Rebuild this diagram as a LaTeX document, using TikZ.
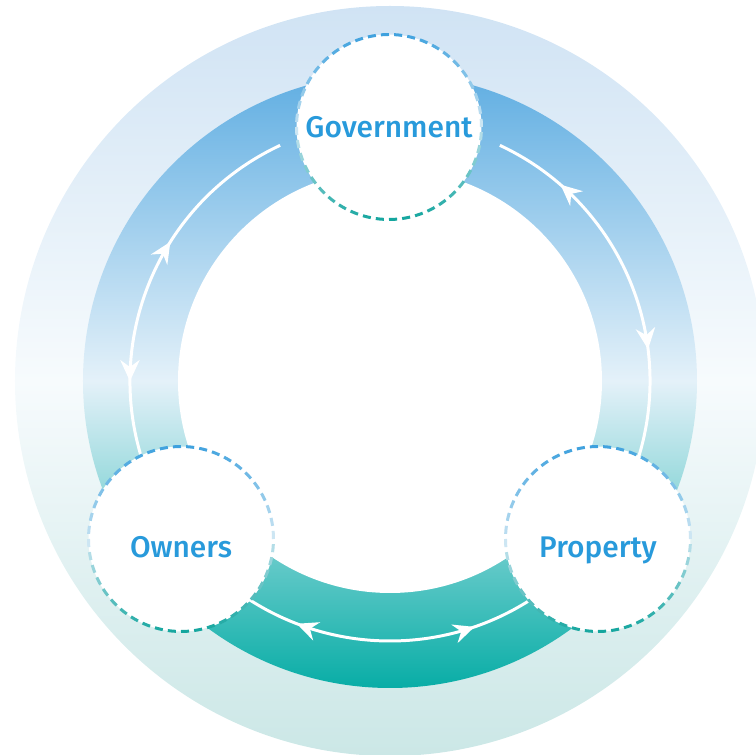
\documentclass[tikz,border=0pt]{standalone}
\usepackage{fontspec}
\newfontfamily\hubfont{Fira Sans Medium}
\usetikzlibrary{arrows.meta,decorations.markings}

\definecolor{halotop}{RGB}{208,227,244}
\definecolor{halomid}{RGB}{247,251,253}
\definecolor{halobot}{RGB}{203,231,230}
\definecolor{ringtop}{RGB}{96,174,226}
\definecolor{ringmid}{RGB}{228,241,249}
\definecolor{ringbot}{RGB}{8,173,166}
\definecolor{dashblue}{RGB}{62,161,222}
\definecolor{dashteal}{RGB}{20,166,158}
\definecolor{dashpale}{RGB}{205,230,243}
\definecolor{labelblue}{RGB}{40,154,219}

% dashed rim of a hub circle, blue on top and teal below
\newcommand\dashring[1]{%
  \foreach \k in {0,...,43}{%
    \pgfmathsetmacro\ang{\k*360/44}%
    \pgfmathtruncatemacro\wt{100*abs(sin(\ang))}%
    \pgfmathtruncatemacro\up{sin(\ang)>0}%
    \ifnum\up=1 \colorlet{dashtint}{dashblue!\wt!dashpale}%
    \else \colorlet{dashtint}{dashteal!\wt!dashpale}\fi
    \draw[dashtint, line width=1.7pt]
      ([shift={(\ang:1.85)}]#1.center) arc[start angle=\ang, delta angle=5, radius=1.85];
  }}

\tikzset{
  hub/.style={circle, fill=white, minimum size=3.7cm, inner sep=0pt,
    font=\hubfont\fontsize{17}{20}\selectfont, text=labelblue,
    text height=0.42cm, text depth=0pt},
  lowhub/.style={hub, text height=0.74cm},
  flow/.style={white, line width=1.7pt, postaction=decorate},
  tip/.tip={Stealth[length=12pt, width=11pt, inset=4pt, color=white]}
}

\begin{document}
\begin{tikzpicture}
  \useasboundingbox (-7.8,-7.48) rectangle (7.32,7.62);

  % pale halo and the coloured ring
  \shade[top color=halotop, bottom color=halobot, middle color=halomid] (0,0) circle (7.5);
  \shade[top color=ringtop, bottom color=ringbot, middle color=ringmid] (0,0) circle (6.14);
  \fill[white] (0,0) circle (4.24);

  % white flows along the ring
  \coordinate (gl) at (115:5.2);
  \coordinate (gr) at (65:5.2);
  \coordinate (ol) at (235:5.2);
  \draw[flow, decoration={markings,
      mark=at position 0.384 with {\arrowreversed{tip}},
      mark=at position 0.765 with {\arrow{tip}}}]
    (gl) arc[start angle=115, end angle=200, radius=5.2];
  \draw[flow, decoration={markings,
      mark=at position 0.188 with {\arrowreversed{tip}},
      mark=at position 0.682 with {\arrow{tip}}}]
    (gr) arc[start angle=65, end angle=-20, radius=5.2];
  \draw[flow, decoration={markings,
      mark=at position 0.2 with {\arrowreversed{tip}},
      mark=at position 0.771 with {\arrow{tip}}}]
    (ol) arc[start angle=235, end angle=305, radius=5.2];

  % the three parties
  \node[hub] (gov) at (-0.02,5.08) {Government};
  \node[lowhub] (own) at (-4.18,-3.16) {Owners};
  \node[lowhub] (prop) at (4.16,-3.16) {Property};
  \dashring{gov}
  \dashring{own}
  \dashring{prop}
\end{tikzpicture}
\end{document}
